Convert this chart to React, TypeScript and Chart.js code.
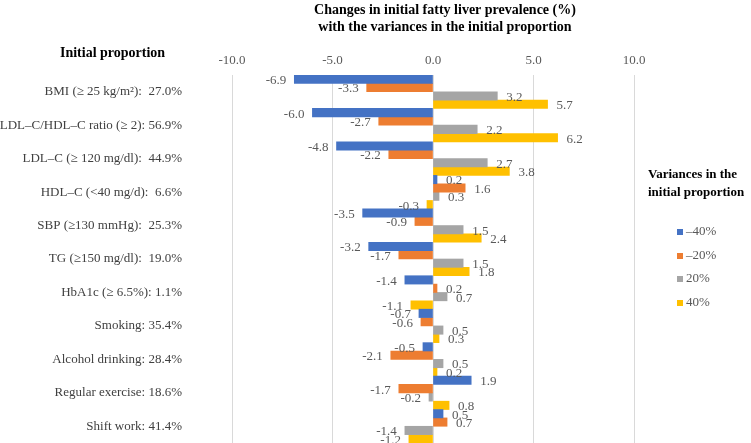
import React, { useEffect, useRef } from "react";
import { Chart, registerables } from "chart.js";
Chart.register(...registerables);

const categories = [
  "BMI (≥ 25 kg/m²):  27.0%",
  "LDL–C/HDL–C ratio (≥ 2): 56.9%",
  "LDL–C (≥ 120 mg/dl):  44.9%",
  "HDL–C (<40 mg/d):  6.6%",
  "SBP (≥130 mmHg):  25.3%",
  "TG (≥150 mg/dl):  19.0%",
  "HbA1c (≥ 6.5%): 1.1%",
  "Smoking: 35.4%",
  "Alcohol drinking: 28.4%",
  "Regular exercise: 18.6%",
  "Shift work: 41.4%",
];
const seriesLabels = ["–40%", "–20%", "20%", "40%"];
const minus40 = [-6.9, -6.0, -4.8, 0.2, -3.5, -3.2, -1.4, -0.7, -0.5, 1.9, 0.5];
const minus20 = [-3.3, -2.7, -2.2, 1.6, -0.9, -1.7, 0.2, -0.6, -2.1, -1.7, 0.7];
const plus20 = [3.2, 2.2, 2.7, 0.3, 1.5, 1.5, 0.7, 0.5, 0.5, -0.2, -1.4];
const plus40 = [5.7, 6.2, 3.8, -0.3, 2.4, 1.8, -1.1, 0.3, 0.2, 0.8, -1.2];
const xTicks = [-10, -5, 0, 5, 10];
const titleLines = ["Changes in initial fatty liver prevalence (%)", "with the variances in the initial proportion"];
const rowHeader = "Initial proportion";
const legendTitle = ["Variances in the", "initial proportion"];

const colors = ["#4472C4", "#ED7D31", "#A5A5A5", "#FFC000"];
const FONT = "'Liberation Serif', 'Times New Roman', serif";

const decorPlugin = {
  id: "decor",
  afterDatasetsDraw(chart: any) {
    const ctx = chart.ctx;
    ctx.save();
    // data labels
    ctx.font = `13px ${FONT}`;
    ctx.fillStyle = "#595959";
    ctx.textBaseline = "middle";
    chart.data.datasets.forEach((ds: any, di: number) => {
      const meta = chart.getDatasetMeta(di);
      meta.data.forEach((el: any, i: number) => {
        const v = ds.data[i];
        const txt = v.toFixed(1);
        if (v >= 0) {
          ctx.textAlign = "left";
          ctx.fillText(txt, el.x + 9, el.y + 1.5);
        } else {
          ctx.textAlign = "right";
          ctx.fillText(txt, el.x - 8, el.y + 1.5);
        }
      });
    });
    // title
    ctx.fillStyle = "#000";
    ctx.textAlign = "center";
    ctx.font = `bold 14px ${FONT}`;
    ctx.fillText(titleLines[0], 445, 10);
    ctx.fillText(titleLines[1], 445, 27);
    // row header
    ctx.textAlign = "left";
    ctx.fillText(rowHeader, 60, 53);
    // legend
    ctx.font = `bold 13px ${FONT}`;
    ctx.fillText(legendTitle[0], 648, 175);
    ctx.fillText(legendTitle[1], 648, 193);
    ctx.font = `13px ${FONT}`;
    const ys = [232, 256, 279, 303];
    seriesLabels.forEach((lab, i) => {
      ctx.fillStyle = colors[i];
      ctx.fillRect(677, ys[i] - 3, 6, 6);
      ctx.fillStyle = "#595959";
      ctx.fillText(lab, 686, ys[i]);
    });
    ctx.restore();
  },
};

export default function App() {
  const ref = useRef<HTMLCanvasElement>(null);
  useEffect(() => {
    if (!ref.current) return;
    const seriesData = [minus40, minus20, plus20, plus40];
    const chart = new Chart(ref.current, {
      type: "bar",
      data: {
        labels: categories,
        datasets: seriesData.map((d, i) => ({
          label: seriesLabels[i],
          data: d,
          backgroundColor: colors[i],
          borderWidth: 0,
          barPercentage: 1,
          categoryPercentage: 1,
        })),
      },
      options: {
        indexAxis: "y",
        responsive: false,
        animation: false,
        layout: { padding: { left: 0, right: 117, top: 0, bottom: 0 } },
        plugins: {
          legend: { display: false },
          tooltip: { enabled: false },
          title: { display: false },
        },
        scales: {
          x: {
            position: "top",
            min: -10,
            max: 10,
            afterBuildTicks: (s: any) => {
              s.ticks = xTicks.map((v) => ({ value: v }));
            },
            afterFit: (s: any) => {
              s.height = 75;
              s.paddingLeft = 0;
              s.paddingRight = 0;
            },
            ticks: {
              callback: (v: any) => Number(v).toFixed(1),
              color: "#595959",
              font: { family: FONT, size: 13 },
              padding: 7,
            },
            grid: { color: "#D9D9D9", drawTicks: false, lineWidth: 1 },
            border: { display: false },
          },
          y: {
            afterFit: (s: any) => {
              s.width = 232;
              s.paddingTop = 0;
              s.paddingBottom = 0;
            },
            ticks: {
              color: "#404040",
              font: { family: FONT, size: 13 },
              padding: 50,
            },
            grid: { display: false, drawTicks: false },
            border: { display: false },
          },
        },
      },
      plugins: [decorPlugin],
    });
    return () => chart.destroy();
  }, []);
  return (
    <div style={{ position: "absolute", left: 0, top: 0, width: 751, height: 443, background: "#fff" }}>
      <canvas ref={ref} width={751} height={443} style={{ display: "block" }} />
    </div>
  );
}
